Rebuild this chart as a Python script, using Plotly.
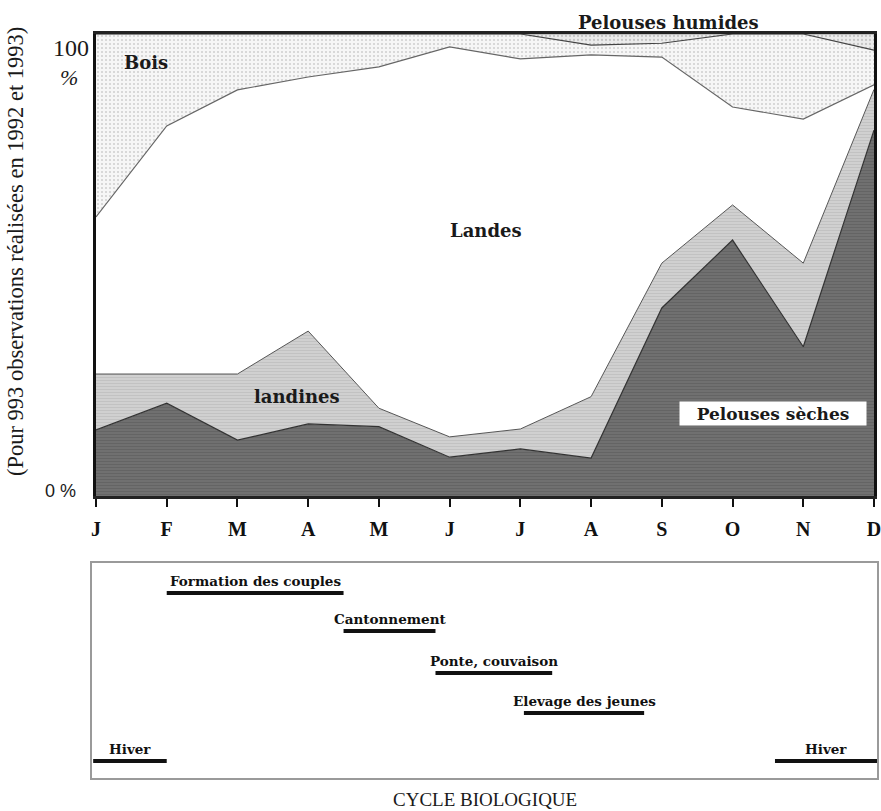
import plotly.graph_objects as go

# ---------------- data ----------------
months = ["J", "F", "M", "A", "M", "J", "J", "A", "S", "O", "N", "D"]
pelouses_seches = [14.3, 20.1, 12.1, 15.6, 15.0, 8.4, 10.2, 8.2, 40.7, 55.4, 32.3, 79.2]
landines = [12.1, 6.3, 14.3, 20.1, 4.0, 4.4, 4.3, 13.3, 9.7, 7.6, 18.1, 8.8]
landes = [34.0, 53.7, 61.5, 55.0, 73.9, 84.4, 80.1, 74.0, 44.6, 21.2, 31.2, 1.0]
bois = [39.6, 19.9, 12.1, 9.3, 7.1, 2.8, 5.4, 2.1, 3.0, 15.8, 18.4, 7.5]
pelouses_humides = [0, 0, 0, 0, 0, 0, 0, 2.4, 2.0, 0, 0, 3.5]

phase_names = ["Hiver", "Formation des couples", "Cantonnement",
               "Ponte, couvaison", "Elevage des jeunes", "Hiver"]
phase_start = [-0.04, 1.0, 3.5, 4.8, 6.05, 9.6]   # in months (J = 0)
phase_end = [1.0, 3.5, 4.8, 6.45, 7.75, 11.05]

# ---------------- layout helpers ----------------
W, H = 881, 811
def px(x):
    return x / W
def py(y):
    return 1 - y / H

SERIF = "DejaVu Serif"
TIMES = "Liberation Serif"

# row (pixel y) of each phase bar in the lower panel
ROW_Y = {"Formation des couples": 593, "Cantonnement": 631, "Ponte, couvaison": 673,
         "Elevage des jeunes": 713, "Hiver": 761}

x = list(range(len(months)))
fig = go.Figure()

layers = [
    (pelouses_seches, "Pelouses sèches", dict(shape="-", fgcolor="#575757", bgcolor="#707070", size=3, solidity=0.35), "#333333", 1.2),
    (landines, "landines", dict(shape="-", fgcolor="#b3b3b3", bgcolor="#d0d0d0", size=3, solidity=0.35), "#555555", 1.0),
    (landes, "Landes", None, "#666666", 1.2),
    (bois, "Bois", dict(shape=".", fgcolor="#a8a8a8", bgcolor="#f6f6f6", size=4, solidity=0.2), "#444444", 1.2),
    (pelouses_humides, "Pelouses humides", dict(shape=".", fgcolor="#a0a0a0", bgcolor="#ececec", size=4, solidity=0.25), "#444444", 0.5),
]
for vals, name, patt, lc, lw in layers:
    kw = {}
    if patt is None:
        kw["fillcolor"] = "white"
    else:
        kw["fillpattern"] = patt
        kw["fillcolor"] = patt["bgcolor"]
    fig.add_trace(go.Scatter(
        x=x, y=vals, name=name, mode="lines", stackgroup="one",
        line=dict(color=lc, width=lw), xaxis="x", yaxis="y", **kw))

# lower panel : biological cycle
for name, s, e in zip(phase_names, phase_start, phase_end):
    yrow = ROW_Y[name]
    fig.add_trace(go.Scatter(x=[s, e], y=[yrow, yrow], mode="lines",
                             line=dict(color="#111111", width=4),
                             xaxis="x2", yaxis="y2", showlegend=False))

annotations = []
for name, s, e in zip(phase_names, phase_start, phase_end):
    annotations.append(dict(x=(s + e) / 2, y=ROW_Y[name], xref="x2", yref="y2",
                            text="<b>%s</b>" % name, showarrow=False, yanchor="bottom", yshift=2,
                            font=dict(family=SERIF, size=13.5, color="#111111")))

def lab(text, x0, y0, size=18, family=SERIF, **kw):
    d = dict(x=px(x0), y=py(y0), xref="paper", yref="paper", text=text,
             showarrow=False, xanchor="center", yanchor="middle",
             font=dict(family=family, size=size, color="#1a1a1a"))
    d.update(kw)
    return d

annotations += [
    lab("<b>Bois</b>", 146, 63),
    lab("<b>Landes</b>", 486, 231),
    lab("<b>landines</b>", 297, 397),
    lab("<b>Pelouses humides</b>", 668, 23),
    lab("<b>Pelouses sèches</b>", 773, 414, size=17, bgcolor="white", width=180, height=17, borderpad=3),
    lab("100", 71, 48, size=24, family=TIMES),
    lab("<i>%</i>", 69, 77, size=22, family=TIMES),
    lab("0 %", 60, 491, size=18, family="Liberation Sans"),
    lab("(Pour 993 observations réalisées en 1992 et 1993)", 16, 252, size=22.5,
        family=TIMES, textangle=-90),
    lab("CYCLE BIOLOGIQUE", 485, 799, size=19, family=TIMES),
]

month_w = (874 - 96) / 11.0
fig.update_layout(
    width=W, height=H, margin=dict(l=0, r=0, t=0, b=0, autoexpand=False),
    paper_bgcolor="white", plot_bgcolor="white", showlegend=False,
    xaxis=dict(domain=[px(96), px(874)], range=[0, 11], tickvals=x, ticktext=months,
               ticks="outside", ticklen=8, tickwidth=2, tickcolor="#111111",
               showline=True, linecolor="#222222", linewidth=2.5, mirror=True,
               showgrid=False, zeroline=False, anchor="y", automargin=False,
               ticklabeloverflow="allow",
               tickfont=dict(family=TIMES, size=20, color="#111111", weight="bold"),
               ticklabelstandoff=5),
    yaxis=dict(domain=[py(496), py(34)], range=[0, 100], showticklabels=False,
               ticks="", showline=True, linecolor="#111111", linewidth=3, mirror=True,
               showgrid=False, zeroline=False, anchor="x", automargin=False),
    xaxis2=dict(domain=[px(92), px(877)],
                range=[(92 - 96) / month_w, (877 - 96) / month_w],
                showticklabels=False, ticks="", showline=True, linecolor="#9a9a9a",
                linewidth=1.5, mirror=True, showgrid=False, zeroline=False, anchor="y2",
                automargin=False),
    yaxis2=dict(domain=[py(778), py(563)], range=[778, 563], showticklabels=False,
                ticks="", showline=True, linecolor="#9a9a9a", linewidth=1.5, mirror=True,
                showgrid=False, zeroline=False, anchor="x2", automargin=False),
    annotations=annotations,
)

fig.write_html("out.html", config={"displayModeBar": False},
               post_script="document.body.style.margin='0';document.body.style.overflow='hidden';")
